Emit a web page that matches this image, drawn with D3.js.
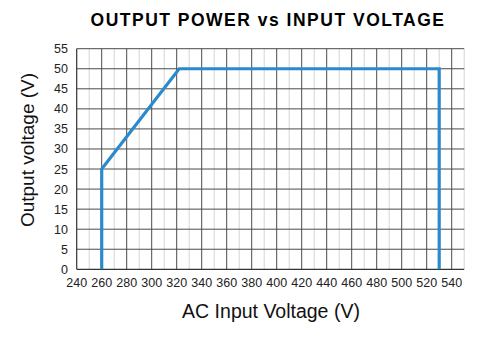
<!DOCTYPE html>
<html>
<head>
<meta charset="utf-8">
<script src="https://cdn.jsdelivr.net/npm/d3@7"></script>
<style>
  body { margin: 0; background: #fff; }
  svg { display: block; font-family: "Liberation Sans", Arial, sans-serif; }
</style>
</head>
<body>
<script>
// Chart data
const inputVoltage = [260, 260, 322, 530, 530];
const outputVoltage = [0, 25, 50, 50, 0];
const xTicks = [240, 260, 280, 300, 320, 340, 360, 380, 400, 420, 440, 460, 480, 500, 520, 540];
const yTicks = [0, 5, 10, 15, 20, 25, 30, 35, 40, 45, 50, 55];
const xMinorTicks = [250, 270, 290, 310, 330, 350, 370, 390, 410, 430, 450, 470, 490, 510, 530, 550];

const svg = d3.select('body')
    .append('svg')
    .attr('width', 490)
    .attr('height', 340);

const x = d3.scaleLinear().domain([240, 550]).range([76.7, 464.2]);
const y = d3.scaleLinear().domain([0, 55]).range([269.3, 48.7]);

// light vertical grid
svg.append('g').selectAll('line')
    .data(xMinorTicks)
    .enter().append('line')
    .attr('x1', d => x(d)).attr('x2', d => x(d))
    .attr('y1', y(0)).attr('y2', y(55))
    .attr('stroke', '#d4d4d4').attr('stroke-width', 1);

// dark vertical grid
svg.append('g').selectAll('line')
    .data(xTicks.slice(1))
    .enter().append('line')
    .attr('x1', d => x(d)).attr('x2', d => x(d))
    .attr('y1', y(0)).attr('y2', y(55))
    .attr('stroke', '#4a4a4a').attr('stroke-width', 1);

// horizontal grid
svg.append('g').selectAll('line')
    .data(yTicks.slice(1))
    .enter().append('line')
    .attr('x1', x(240)).attr('x2', x(550))
    .attr('y1', d => y(d)).attr('y2', d => y(d))
    .attr('stroke', '#4a4a4a').attr('stroke-width', 1);

// axes frame (left + bottom)
svg.append('line')
    .attr('x1', x(240)).attr('x2', x(240))
    .attr('y1', y(0)).attr('y2', y(55))
    .attr('stroke', '#333').attr('stroke-width', 1.2);
svg.append('line')
    .attr('x1', x(240)).attr('x2', x(550))
    .attr('y1', y(0)).attr('y2', y(0))
    .attr('stroke', '#333').attr('stroke-width', 1.2);

// curve
const line = d3.line()
    .x((d, i) => x(inputVoltage[i]))
    .y(d => y(d));
svg.append('path')
    .datum(outputVoltage)
    .attr('d', line)
    .attr('fill', 'none')
    .attr('stroke', '#2b8acb')
    .attr('stroke-width', 3.2)
    .attr('stroke-linejoin', 'miter');

// tick labels
svg.append('g').selectAll('text')
    .data(xTicks)
    .enter().append('text')
    .attr('x', d => x(d))
    .attr('y', 287)
    .attr('text-anchor', 'middle')
    .attr('font-size', 12.5)
    .attr('fill', '#222')
    .text(d => d);

svg.append('g').selectAll('text')
    .data(yTicks)
    .enter().append('text')
    .attr('x', 68)
    .attr('y', d => y(d) + 4.5)
    .attr('text-anchor', 'end')
    .attr('font-size', 12.5)
    .attr('fill', '#222')
    .text(d => d);

// titles
svg.append('text')
    .attr('x', 268).attr('y', 25.5)
    .attr('text-anchor', 'middle')
    .attr('font-size', 17.5)
    .attr('font-weight', 'bold')
    .attr('letter-spacing', 1.5)
    .attr('fill', '#000')
    .text('OUTPUT POWER vs INPUT VOLTAGE');

svg.append('text')
    .attr('x', 271).attr('y', 318)
    .attr('text-anchor', 'middle')
    .attr('font-size', 19.5)
    .attr('fill', '#111')
    .text('AC Input Voltage (V)');

svg.append('text')
    .attr('transform', 'translate(34,150) rotate(-90)')
    .attr('text-anchor', 'middle')
    .attr('font-size', 19)
    .attr('fill', '#111')
    .text('Output voltage (V)');
</script>
</body>
</html>
